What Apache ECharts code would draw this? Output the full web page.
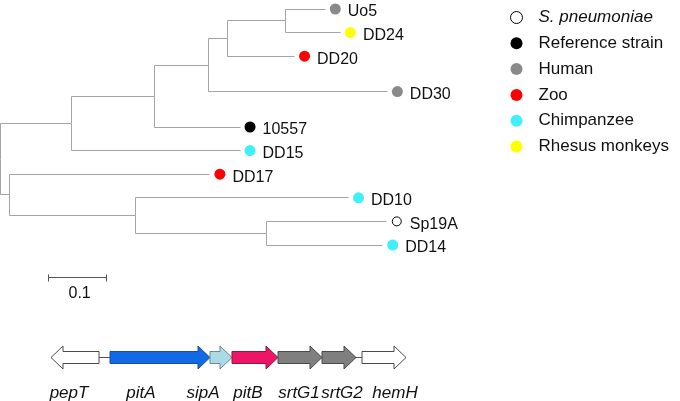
<!DOCTYPE html>
<html><head><meta charset="utf-8">
<script src="https://cdn.jsdelivr.net/npm/echarts@6/dist/echarts.min.js"></script>
<style>html,body{margin:0;padding:0;background:#fff}#c{width:680px;height:401px}</style>
</head><body><div id="c"></div>
<script>
// ---------- tree data ----------
const leafNames  = ['Uo5','DD24','DD20','DD30','10557','DD15','DD17','DD10','Sp19A','DD14'];
const leafRows   = [0, 1, 2, 3.5, 5, 6, 7, 8, 9, 10];
const leafGroups = ['Human','Rhesus monkeys','Zoo','Human','Reference strain','Chimpanzee','Zoo','Chimpanzee','S. pneumoniae','Chimpanzee'];
const edgeChild  = ['A','B','C','DD15','D','10557','E','DD30','F','DD20','Uo5','DD24','DD17','G','DD10','H','Sp19A','DD14'];
const edgeParent = ['R','R','A','A','C','C','D','D','E','E','F','F','B','B','G','G','H','H'];
const edgeLength = [0.122,0.016,0.143,0.291,0.093,0.148,0.033,0.309,0.100,0.116,0.069,0.095,0.345,0.217,0.367,0.226,0.207,0.200];
const groupNames = ['S. pneumoniae','Reference strain','Human','Zoo','Chimpanzee','Rhesus monkeys'];
const scaleBarLength = 0.1;
const scaleBarLabel = '0.1';
// ---------- gene cluster data (bp) ----------
const geneNames   = ['pepT','pitA','sipA','pitB','srtG1','srtG2','hemH'];
const geneStart   = [0, 2360, 6360, 7240, 9080, 10840, 12440];
const geneEnd     = [1920, 6360, 7240, 9080, 10840, 12200, 14200];
const geneStrand  = [-1, 1, 1, 1, 1, 1, 1];
const geneLabelAt = [720, 3600, 6080, 7880, 9920, 11640, 13760];

// ---------- styles / layout ----------
const FONT = 'Liberation Sans, Arial, sans-serif';
const PX_PER_UNIT = 580, ROW_PX = 23.6, ROW0_PX = 9;
const xMin = -0.5 / PX_PER_UNIT, xMax = xMin + 680 / PX_PER_UNIT;
const yMin = -ROW0_PX / ROW_PX, yMax = (401 - ROW0_PX) / ROW_PX;
const dotGap = 10 / PX_PER_UNIT;
const scaleBarStart = 0.083, scaleBarRow = 11.36;
const groupStyle = {
  'S. pneumoniae':   {color:'#ffffff', borderColor:'#000', borderWidth:1, size:9},
  'Reference strain':{color:'#000000', size:11},
  'Human':           {color:'#8a8a8a', size:11},
  'Zoo':             {color:'#ff0000', size:11},
  'Chimpanzee':      {color:'#3ff0fa', size:11},
  'Rhesus monkeys':  {color:'#ffff00', size:11}
};
const geneFill   = ['#ffffff','#1169e6','#add8e6','#ee1566','#7f7f7f','#7f7f7f','#ffffff'];
const geneStroke = ['#4a4a4a','#1d4f9c','#6a8a96','#8c1a3c','#4a4a4a','#4a4a4a','#4a4a4a'];
const BP_PER_PX = 40, GENE_LEFT_PX = 51;

// ---------- layout computation ----------
const dist = {R: 0};
edgeChild.forEach((c, i) => { dist[c] = dist[edgeParent[i]] + edgeLength[i]; });
const row = {};
leafNames.forEach((n, i) => row[n] = leafRows[i]);
function getRow(n) {
  if (row[n] !== undefined) return row[n];
  const kids = edgeChild.filter((c, i) => edgeParent[i] === n).map(getRow);
  row[n] = (Math.min(...kids) + Math.max(...kids)) / 2;
  return row[n];
}
const edgeData = edgeChild.map((c, i) => [dist[edgeParent[i]], getRow(edgeParent[i]), dist[c], getRow(c)]);
const sx = v => Math.round(v - 0.5) + 0.5;

const series = [];
series.push({
  type: 'custom', xAxisIndex: 0, yAxisIndex: 0, silent: true, clip: false,
  data: edgeData,
  renderItem(params, api) {
    const p = api.coord([api.value(0), api.value(1)]);
    const q = api.coord([api.value(2), api.value(3)]);
    return {type:'polyline', shape:{points:[[sx(p[0]), sx(p[1])],[sx(p[0]), sx(q[1])],[sx(q[0]), sx(q[1])]]},
            style:{stroke:'#a5a5a5', lineWidth:1, fill:null}};
  }
});
groupNames.forEach(g => {
  const st = groupStyle[g];
  const data = [];
  leafNames.forEach((n, i) => { if (leafGroups[i] === g) data.push([dist[n] + dotGap, row[n], n]); });
  series.push({
    type: 'scatter', name: g, xAxisIndex: 0, yAxisIndex: 0, symbol: 'circle', symbolSize: st.size,
    itemStyle: {color: st.color, borderColor: st.borderColor || st.color, borderWidth: st.borderWidth || 0, opacity: 1},
    label: {show: true, position: 'right', distance: g === 'S. pneumoniae' ? 8 : 7, offset: [0, 3],
            formatter: p => p.value[2], fontSize: 16, color: '#111', fontFamily: FONT},
    emphasis: {disabled: true},
    data
  });
});
// scale bar
series.push({
  type: 'custom', xAxisIndex: 0, yAxisIndex: 0, silent: true, clip: false,
  data: [[scaleBarStart, scaleBarRow, scaleBarStart + scaleBarLength]],
  renderItem(params, api) {
    const a = api.coord([api.value(0), api.value(1)]);
    const b = api.coord([api.value(2), api.value(1)]);
    const y = sx(a[1]);
    return {type:'group', children:[
      {type:'polyline', shape:{points:[[sx(a[0]), y], [sx(b[0]), y]]}, style:{stroke:'#555', lineWidth:1, fill:null}},
      {type:'polyline', shape:{points:[[sx(a[0]), y-3], [sx(a[0]), y+4]]}, style:{stroke:'#555', lineWidth:1, fill:null}},
      {type:'polyline', shape:{points:[[sx(b[0]), y-3], [sx(b[0]), y+4]]}, style:{stroke:'#555', lineWidth:1, fill:null}},
      {type:'text', x:(a[0]+b[0])/2 + 2, y: y + 16, style:{text: scaleBarLabel, fontSize:16, fontFamily:FONT, fill:'#111', align:'center', verticalAlign:'middle'}}
    ]};
  }
});
// gene backbone
series.push({
  type: 'line', xAxisIndex: 1, yAxisIndex: 1, symbol: 'none', silent: true,
  lineStyle: {color: '#555', width: 1},
  data: [[Math.min(...geneStart), 0], [Math.max(...geneEnd), 0]], z: 1
});
// genes
series.push({
  type: 'custom', xAxisIndex: 1, yAxisIndex: 1, silent: true, clip: false, z: 3,
  data: geneNames.map((n, i) => [geneStart[i], geneEnd[i], geneStrand[i], geneLabelAt[i], i]),
  renderItem(params, api) {
    const s = api.coord([api.value(0), 0]), e = api.coord([api.value(1), 0]);
    const dir = api.value(2), idx = api.value(4);
    const cy = s[1];
    const tail = dir > 0 ? s[0] : e[0], tip = dir > 0 ? e[0] : s[0];
    const base = tip - dir * 12, bh = 6, hh = 11.5;
    const lx = api.coord([api.value(3), 0])[0];
    return {type:'group', children:[
      {type:'polygon', shape:{points:[[tail, cy-bh],[base, cy-bh],[base, cy-hh],[tip, cy],[base, cy+hh],[base, cy+bh],[tail, cy+bh]]},
       style:{fill: geneFill[idx], stroke: geneStroke[idx], lineWidth: 1}},
      {type:'text', x: lx, y: cy + 36, style:{text: geneNames[idx], fontSize:17, fontStyle:'italic', fontFamily:FONT, fill:'#111', align:'center', verticalAlign:'middle'}}
    ]};
  }
});

const chart = echarts.init(document.getElementById('c'), null, {renderer: 'canvas'});
chart.setOption({
  animation: false,
  backgroundColor: '#fff',
  grid: [
    {left: 0, right: 0, top: 0, bottom: 0},
    {left: 0, width: 680, top: 346, height: 23}
  ],
  xAxis: [
    {type: 'value', gridIndex: 0, min: xMin, max: xMax, show: false},
    {type: 'value', gridIndex: 1, min: -GENE_LEFT_PX * BP_PER_PX, max: (680 - GENE_LEFT_PX) * BP_PER_PX, show: false}
  ],
  yAxis: [
    {type: 'value', gridIndex: 0, min: yMin, max: yMax, inverse: true, show: false},
    {type: 'value', gridIndex: 1, min: -1, max: 1, show: false}
  ],
  legend: {
    orient: 'vertical', left: 505, top: 4, itemWidth: 34, itemHeight: 12, itemGap: 8.8, selectedMode: false,
    textStyle: {fontSize: 17, color: '#111', fontFamily: FONT, lineHeight: 12,
                rich: {i: {fontStyle: 'italic', fontSize: 17, fontFamily: FONT, color: '#111', lineHeight: 12}}},
    formatter: n => n === 'S. pneumoniae' ? '{i|' + n + '}' : n,
    data: groupNames.map(n => ({name: n, icon: 'circle',
      itemStyle: {color: groupStyle[n].color, borderColor: groupStyle[n].borderColor || groupStyle[n].color, borderWidth: groupStyle[n].borderWidth || 0}}))
  },
  series
});
</script></body></html>
